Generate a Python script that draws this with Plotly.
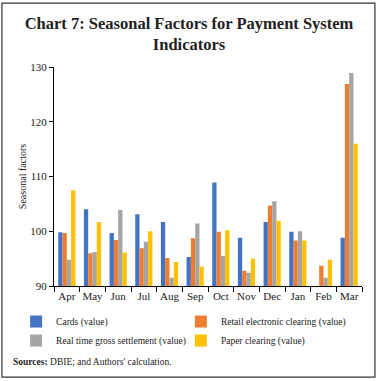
import plotly.graph_objects as go

months = ["Apr", "May", "Jun", "Jul", "Aug", "Sep", "Oct", "Nov", "Dec", "Jan", "Feb", "Mar"]
cards = [99.8, 104.0, 99.7, 103.1, 101.7, 95.3, 108.9, 98.8, 101.7, 99.9, 89.8, 98.8]
retail = [99.7, 96.0, 98.4, 96.9, 95.1, 98.7, 99.9, 92.8, 104.7, 98.3, 93.7, 126.9]
rtgs = [94.8, 96.2, 103.9, 98.1, 91.5, 101.4, 95.5, 92.4, 105.5, 100.0, 91.5, 128.9]
paper = [107.5, 101.7, 96.1, 100.0, 94.4, 93.5, 100.2, 95.0, 101.9, 98.3, 94.8, 116.0]

series = [
    ("Cards (value)", cards, "#4472C4", "legend"),
    ("Retail electronic clearing (value)", retail, "#ED7D31", "legend2"),
    ("Real time gross settlement (value)", rtgs, "#A5A5A5", "legend"),
    ("Paper clearing (value)", paper, "#FFC000", "legend2"),
]

serif = "Liberation Serif, DejaVu Serif, serif"

fig = go.Figure()
for name, vals, col, lg in series:
    fig.add_trace(go.Bar(x=months, y=vals, name=name, marker_color=col,
                         marker_line_width=0, legend=lg))

legend_common = dict(
    orientation="v", yanchor="top", y=-0.096, xanchor="left",
    bgcolor="rgba(0,0,0,0)", font=dict(family=serif, size=9.5, color="#222"),
    itemwidth=30, tracegroupgap=0, traceorder="normal",
)

fig.update_layout(
    width=378, height=381,
    margin=dict(l=54, r=16, t=67, b=95, autoexpand=False),
    paper_bgcolor="white", plot_bgcolor="white",
    barmode="group", bargap=0.33, bargroupgap=0,
    font=dict(family=serif, size=11, color="#222"),
    title=dict(
        text="<b>Chart 7: Seasonal Factors for Payment System<br>Indicators</b>",
        x=0.5, xanchor="center", y=0.925, yanchor="middle",
        font=dict(family=serif, size=16.5, color="#222"),
    ),
    legend=dict(x=-0.123, **legend_common),
    legend2=dict(x=0.412, **legend_common),
    showlegend=True,
)
fig.update_yaxes(
    range=[90, 130], dtick=10, showgrid=False, zeroline=False, automargin=False,
    showline=True, linecolor="black", linewidth=1,
    ticks="outside", ticklen=4, tickcolor="black",
    title=dict(text="Seasonal factors", font=dict(family=serif, size=10), standoff=1),
)
fig.update_xaxes(
    showgrid=False, showline=True, linecolor="black", linewidth=1, automargin=False,
    ticks="outside", ticklen=5, tickcolor="black", tickson="boundaries", tickangle=0,
)
fig.add_shape(type="rect", xref="paper", yref="paper",
              x0=-0.169, x1=1.042, y0=-0.416, y1=1.292,
              line=dict(color="#333", width=1.2), fillcolor="rgba(0,0,0,0)")
fig.add_annotation(
    text="<b>Sources:</b> DBIE; and Authors' calculation.",
    xref="paper", yref="paper", x=-0.138, y=-0.345, xanchor="left", yanchor="middle",
    showarrow=False, font=dict(family=serif, size=9.5, color="#222"),
)
fig.write_html("out.html", config={"displayModeBar": False},
               post_script="document.body.style.margin='0';")
